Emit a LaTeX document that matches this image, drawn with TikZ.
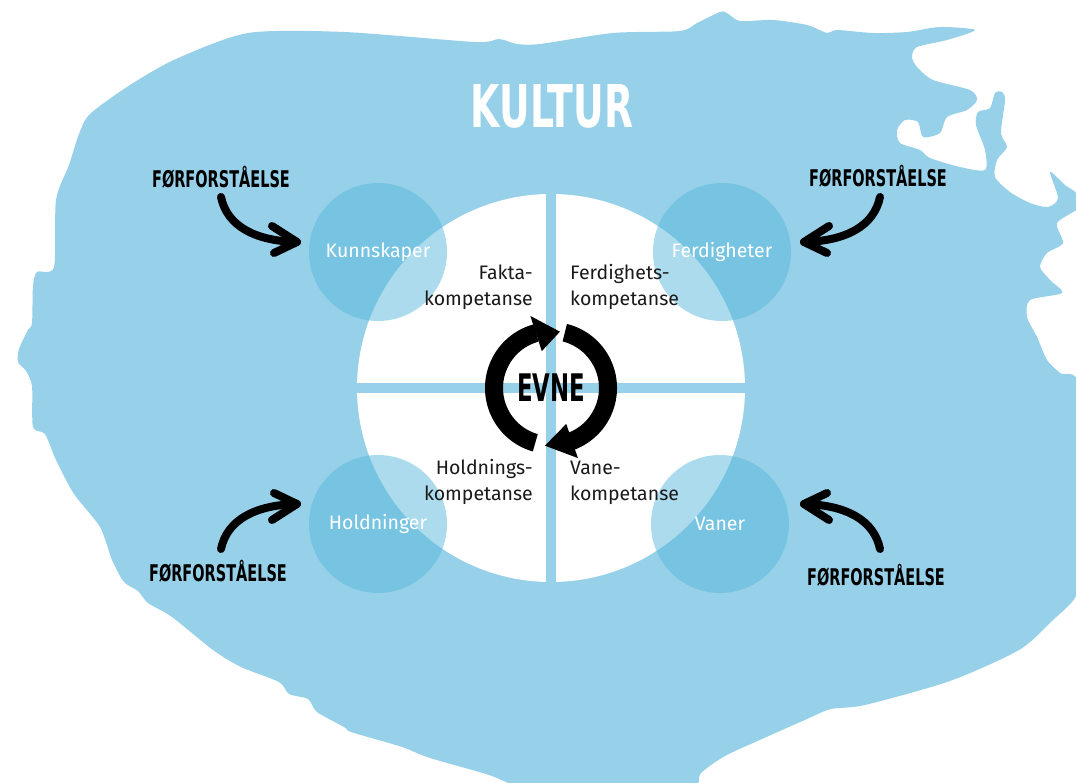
\documentclass[tikz,border=0pt]{standalone}
\usepackage{fontspec}
\setmainfont{Fira Sans}
\newfontfamily\handfont{DejaVu Sans}
\usetikzlibrary{calc}
\definecolor{blobblue}{RGB}{151,208,233}
\definecolor{ringblue}{RGB}{89,185,221}
\definecolor{inktext}{RGB}{26,26,26}
\tikzset{
  blobfill/.style={fill=blobblue},
  smallcirc/.style={circle, fill=ringblue, fill opacity=0.5, text opacity=1, text=white,
    minimum size=138pt, inner sep=0pt, font=\fontsize{19.5}{23}\selectfont},
  quadtext/.style={inner sep=0pt, text=inktext, font=\fontsize{19.5}{26}\selectfont},
  handlabel/.style={inner sep=0pt, text=black, font=\handfont\bfseries\fontsize{23}{23}\selectfont},
  inkarrow/.style={line width=8pt, line cap=round, line join=round, black},
  evnearc/.style={fill=black}
}
\begin{document}
\begin{tikzpicture}[x=1pt,y=-1pt]
\useasboundingbox (0,0) rectangle (1076,783);
\clip (0,0) rectangle (1076,783);
% background blob
\fill[blobfill] plot[smooth cycle, tension=0.45] coordinates {
 (176,59) (248,33) (344,32) (475,42) (499,39) (517,44) (540,44) (613,33) (680,31)
 (697,23) (720,12) (727,13) (740,21) (773,20) (807,25) (827,33) (837,30) (873,33)
 (907,32) (940,27) (975,30) (947,40) (917,47) (912,57) (917,67) (933,80) (970,90)
 (977,100) (967,110) (947,117) (940,133) (923,137) (918,122) (905,120) (897,130)
 (900,143) (920,150) (930,158) (960,167) (985,170) (985,150) (976,125) (978,112)
 (990,108) (995,93) (1002,92) (1005,100) (1001,133) (1007,147) (997,160) (995,177)
 (1010,192) (1030,203) (1048,207) (1058,198) (1050,172) (1065,185) (1076,193)
 (1080,207) (1057,223) (1063,243) (1047,253) (1040,267) (1050,280) (1062,293)
 (1030,300) (1027,317) (1037,337) (1047,360) (1060,373) (1080,390) (1080,560)
 (1076,596) (1053,620) (1019,650) (950,681) (865,705) (831,709) (807,719) (762,739)
 (725,756) (701,773) (684,795) (540,795) (517,787) (489,775) (430,758) (405,748)
 (389,743) (351,732) (344,727) (317,712) (308,699) (289,694) (279,682) (241,667)
 (213,650) (172,617) (148,603) (138,591) (124,582) (112,560) (100,527) (74,494)
 (56,460) (45,434) (33,427) (32,386) (26,371) (18,362) (19,349) (28,330) (32,323)
 (33,286) (37,272) (54,267) (56,200) (69,165) (79,134) (90,114) (130,85)
};
% central white disc and cross
\node[circle, fill=white, minimum size=388pt, inner sep=0pt] (core) at (551,388) {};
\fill[blobfill] (546,190) rectangle (556,586);
\fill[blobfill] (355,383) rectangle (748,393);
% four small circles
\node[smallcirc] (kun) at (378,252) {Kunnskaper};
\node[smallcirc] (fer) at (722,252) {Ferdigheter};
\node[smallcirc] (hol) at (378,524) {Holdninger};
\node[smallcirc] (van) at (720,524) {Vaner};
% quadrant labels (base anchor = last line)
\node[quadtext, anchor=base east, align=right] (qfk) at (533,306) {Fakta-\\kompetanse};
\node[quadtext, anchor=base west, align=left] (qfe) at (570,306) {Ferdighets-\\kompetanse};
\node[quadtext, anchor=base east, align=right] (qho) at (533,500) {Holdnings-\\kompetanse};
\node[quadtext, anchor=base west, align=left] (qva) at (570,500) {Vane-\\kompetanse};
% title
\node[inner sep=0pt, text=white, font=\handfont\bfseries\fontsize{59}{59}\selectfont] (kultur) at (552,106) {\scalebox{0.64}[1]{KULTUR}};
% EVNE with circular arrows
\coordinate (ev) at (551,388);
\node[handlabel, font=\handfont\bfseries\fontsize{38}{38}\selectfont] (evne) at (551,388) {\scalebox{0.6}[1]{EVNE}};
\fill[evnearc] ($(ev)+(254:66pt)$) arc[start angle=254, end angle=105, radius=66pt]
  -- ($(ev)+(105:48pt)$) arc[start angle=105, end angle=254, radius=48pt] -- cycle;
\fill[evnearc] ($(ev)+(106:75pt)$) -- ($(ev)+(81:57pt)$) -- ($(ev)+(104:38pt)$) -- cycle;
\fill[evnearc] ($(ev)+(76:66pt)$) arc[start angle=76, end angle=-70, radius=66pt]
  -- ($(ev)+(-70:48pt)$) arc[start angle=-70, end angle=76, radius=48pt] -- cycle;
\fill[evnearc] ($(ev)+(-69:75pt)$) -- ($(ev)+(-96:58pt)$) -- ($(ev)+(-67:39pt)$) -- cycle;
% forforstaelse labels
\node[handlabel] (ff1) at (221,177) {\scalebox{0.63}[1]{FØRFORSTÅELSE}};
\node[handlabel] (ff2) at (878,176) {\scalebox{0.63}[1]{FØRFORSTÅELSE}};
\node[handlabel] (ff3) at (218,571) {\scalebox{0.63}[1]{FØRFORSTÅELSE}};
\node[handlabel] (ff4) at (876,575) {\scalebox{0.63}[1]{FØRFORSTÅELSE}};
% arrow end points
\coordinate (s1) at (221,197); \coordinate (t1) at (297,242);
\coordinate (s2) at (880,197); \coordinate (t2) at (804,242);
\coordinate (s3) at (221,549); \coordinate (t3) at (297,504);
\coordinate (s4) at (880,549); \coordinate (t4) at (804,504);
\draw[inkarrow] (s1) .. controls (227,226) and (255,241) .. (t1);
\draw[inkarrow] ($(t1)+(-25,-16)$) -- (t1) -- ($(t1)+(-23,11)$);
\draw[inkarrow] (s2) .. controls (874,226) and (846,241) .. (t2);
\draw[inkarrow] ($(t2)+(25,-16)$) -- (t2) -- ($(t2)+(23,11)$);
\draw[inkarrow] (s3) .. controls (227,520) and (255,505) .. (t3);
\draw[inkarrow] ($(t3)+(-25,16)$) -- (t3) -- ($(t3)+(-23,-11)$);
\draw[inkarrow] (s4) .. controls (874,520) and (846,505) .. (t4);
\draw[inkarrow] ($(t4)+(25,16)$) -- (t4) -- ($(t4)+(23,-11)$);
\end{tikzpicture}
\end{document}
